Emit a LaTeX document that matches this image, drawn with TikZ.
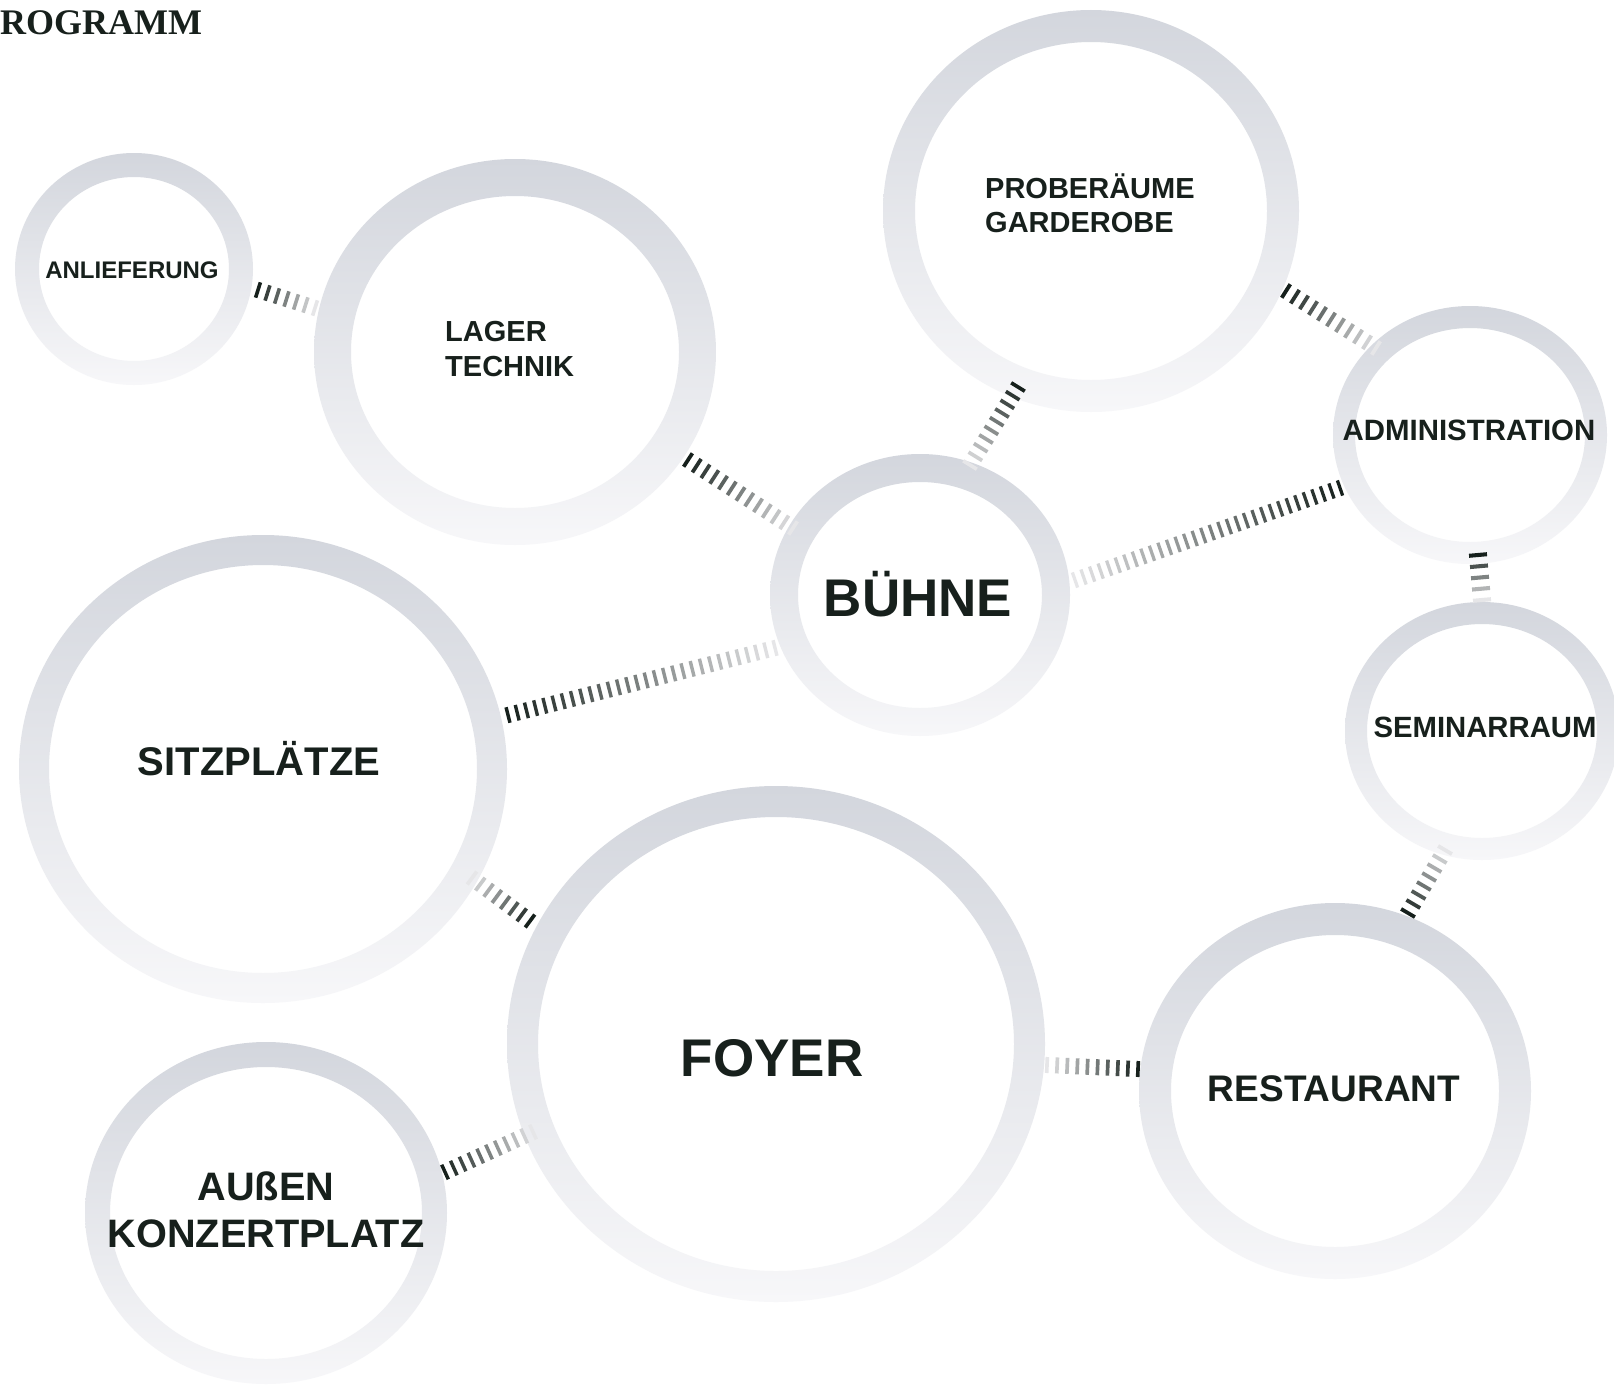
\documentclass[tikz,border=0pt]{standalone}
\usepackage{fontspec}
\setmainfont{Liberation Sans}
\newfontfamily\serifbold{Liberation Serif}
\usetikzlibrary{calc}
\definecolor{ringtop}{HTML}{D3D6DD}
\definecolor{ringbot}{HTML}{F7F7F9}
\definecolor{cdark}{HTML}{16201C}
\definecolor{clight}{HTML}{E6E6E8}
\definecolor{txt}{HTML}{17201C}
\tikzset{
  ringshade/.style={top color=ringtop,bottom color=ringbot,even odd rule},
  tickline/.style={line width=16pt,line cap=butt},
  lbl/.style={text=txt,font=\bfseries,inner sep=0pt,align=center},
  lbll/.style={text=txt,font=\bfseries,inner sep=0pt,align=left},
}
\newcommand\myring[6]{%
  \coordinate (#1) at (#2,#3);
  \pgfmathsetmacro\irx{#4-#6}\pgfmathsetmacro\iry{#5-#6}%
  \shade[ringshade] (#1) ellipse [x radius=#4, y radius=#5] (#1) ellipse [x radius=\irx, y radius=\iry];
}
\newcommand\conn[3]{%
  \foreach \k in {1,...,#3}{%
    \pgfmathsetmacro\tc{(\k-1)/(#3-1)}%
    \pgfmathsetmacro\ta{\tc-0.18/(#3-1)}%
    \pgfmathsetmacro\tb{\tc+0.18/(#3-1)}%
    \pgfmathsetmacro\pc{100*(1-\tc)}%
    \draw[tickline,draw=cdark!\pc!clight] ($(#1)!\ta!(#2)$) -- ($(#1)!\tb!(#2)$);
  }%
}
\begin{document}
\begin{tikzpicture}[x=1pt,y=-1pt]
\useasboundingbox (0,0) rectangle (1614,1389);
\fill[white] (0,0) rectangle (1614,1389);
% rings
\myring{anl}{134}{269}{119}{116}{24}
\myring{lag}{515}{352}{201}{193}{37}
\myring{pro}{1091}{211}{208}{201}{32}
\myring{adm}{1470}{435}{137}{129}{22}
\myring{bue}{920}{595}{150}{141}{28}
\myring{sem}{1482}{731}{137}{129}{22}
\myring{sit}{263}{769}{244}{234}{30}
\myring{foy}{776}{1044}{269}{258}{31}
\myring{res}{1335}{1091}{196}{188}{32}
\myring{aus}{266}{1213}{181}{171}{25}
% connector ends
\coordinate (a1) at (258,290); \coordinate (a2) at (315,308);
\coordinate (b1) at (688,460); \coordinate (b2) at (793,528);
\coordinate (c1) at (1018,387); \coordinate (c2) at (970,465);
\coordinate (d1) at (1286,291); \coordinate (d2) at (1376,348);
\coordinate (e1) at (1340,488); \coordinate (e2) at (1075,580);
\coordinate (f1) at (1478,555); \coordinate (f2) at (1482,600);
\coordinate (g1) at (1408,913); \coordinate (g2) at (1445,850);
\coordinate (h1) at (1138,1069); \coordinate (h2) at (1047,1065);
\coordinate (i1) at (508,715); \coordinate (i2) at (775,648);
\coordinate (j1) at (530,921); \coordinate (j2) at (472,878);
\coordinate (k1) at (445,1172); \coordinate (k2) at (533,1132);
\conn{a1}{a2}{7}
\conn{b1}{b2}{13}
\conn{c1}{c2}{10}
\conn{d1}{d2}{11}
\conn{e1}{e2}{32}
\begin{scope}[tickline/.append style={line width=18pt}]
\conn{f1}{f2}{5}
\end{scope}
\conn{g1}{g2}{8}
\conn{h1}{h2}{10}
\conn{i1}{i2}{30}
\conn{j1}{j2}{8}
\conn{k1}{k2}{11}
% labels
\node[lbl,font=\bfseries\fontsize{24}{27}\selectfont] (tanl) at (132,270) {ANLIEFERUNG};
\node[lbll,font=\bfseries\fontsize{29}{35}\selectfont,anchor=west] (tlag) at (445,349) {LAGER\\TECHNIK};
\node[lbll,font=\bfseries\fontsize{29}{34}\selectfont,anchor=west] (tpro) at (985,203) {PROBERÄUME\\GARDEROBE};
\node[lbl,font=\bfseries\fontsize{29.4}{34}\selectfont] (tadm) at (1469,430) {ADMINISTRATION};
\node[lbl,font=\bfseries\fontsize{53}{58}\selectfont] (tbue) at (918,594) {BÜHNE};
\node[lbl,font=\bfseries\fontsize{29.3}{34}\selectfont] (tsem) at (1485,727) {SEMINARRAUM};
\node[lbl,font=\bfseries\fontsize{40}{46}\selectfont] (tsit) at (259,759) {SITZPLÄTZE};
\node[lbl,font=\bfseries\fontsize{53}{58}\selectfont] (tfoy) at (772,1058) {FOYER};
\node[lbl,font=\bfseries\fontsize{37}{42}\selectfont] (tres) at (1334,1089) {RESTAURANT};
\node[lbl,font=\bfseries\fontsize{39.7}{47}\selectfont] (taus) at (266,1210) {AUßEN\\KONZERTPLATZ};
\node[text=txt,font=\serifbold\bfseries\fontsize{36}{40}\selectfont,inner sep=0pt,anchor=west] (tprog) at (0,23) {ROGRAMM};
\end{tikzpicture}
\end{document}
